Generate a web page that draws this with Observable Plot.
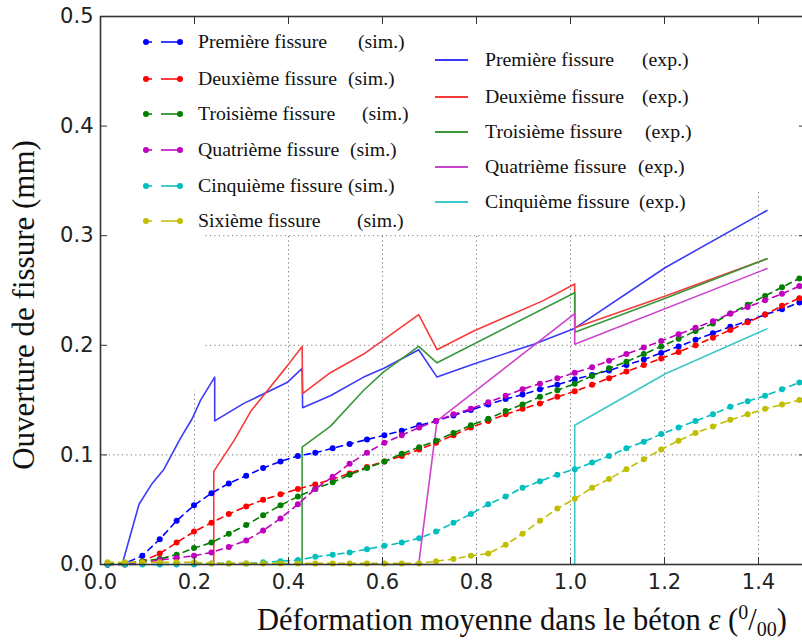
<!DOCTYPE html>
<html><head><meta charset="utf-8">
<script src="https://cdn.jsdelivr.net/npm/d3@7"></script>
<script src="https://cdn.jsdelivr.net/npm/@observablehq/plot@0.6"></script>
<style>body{margin:0;background:#fff}</style>
</head><body><div id="chart"></div>
<script>
// ---- data ----
const simX = [0.015,0.052,0.089,0.126,0.162,0.199,0.236,0.273,0.310,0.346,0.383,0.420,0.457,0.494,0.530,0.567,0.604,0.641,0.678,0.714,0.751,0.788,0.825,0.862,0.898,0.935,0.972,1.009,1.046,1.082,1.119,1.156,1.193,1.230,1.266,1.303,1.340,1.377,1.414,1.450,1.487];
const simPremiere = [0.000,0.001,0.008,0.023,0.040,0.054,0.065,0.074,0.081,0.088,0.094,0.099,0.102,0.106,0.110,0.114,0.118,0.122,0.127,0.131,0.136,0.141,0.146,0.151,0.155,0.160,0.164,0.169,0.173,0.177,0.182,0.187,0.193,0.199,0.205,0.211,0.217,0.222,0.228,0.233,0.239];
const simDeuxieme = [0.000,0.000,0.003,0.010,0.020,0.030,0.038,0.046,0.053,0.059,0.064,0.069,0.073,0.078,0.083,0.089,0.094,0.099,0.105,0.111,0.118,0.125,0.131,0.137,0.142,0.147,0.153,0.158,0.164,0.170,0.176,0.182,0.188,0.194,0.200,0.207,0.214,0.221,0.228,0.236,0.243];
const simTroisieme = [0.000,0.001,0.003,0.005,0.009,0.015,0.020,0.028,0.036,0.045,0.054,0.062,0.069,0.075,0.082,0.088,0.094,0.101,0.107,0.113,0.120,0.127,0.133,0.140,0.146,0.153,0.159,0.165,0.172,0.179,0.185,0.192,0.199,0.206,0.213,0.220,0.229,0.237,0.245,0.253,0.261];
const simQuatrieme = [0.000,0.000,0.002,0.004,0.006,0.008,0.011,0.016,0.022,0.031,0.042,0.055,0.069,0.080,0.092,0.102,0.111,0.118,0.125,0.131,0.137,0.142,0.148,0.154,0.160,0.165,0.170,0.175,0.180,0.186,0.192,0.198,0.204,0.210,0.216,0.222,0.229,0.235,0.241,0.247,0.254];
const simCinquieme = [0.000,0.000,0.000,0.000,0.000,0.000,0.001,0.001,0.001,0.002,0.003,0.004,0.007,0.009,0.011,0.014,0.017,0.020,0.024,0.030,0.038,0.046,0.055,0.062,0.070,0.076,0.082,0.087,0.093,0.099,0.106,0.112,0.119,0.125,0.131,0.137,0.144,0.149,0.154,0.160,0.166];
const simSixieme = [0.002,0.002,0.002,0.002,0.002,0.002,0.001,0.001,0.001,0.001,0.001,0.001,0.001,0.001,0.001,0.001,0.001,0.001,0.001,0.003,0.005,0.008,0.010,0.018,0.028,0.040,0.051,0.060,0.070,0.078,0.087,0.096,0.105,0.113,0.120,0.126,0.132,0.137,0.142,0.146,0.150];

const expPremiereX = [0.046,0.082,0.110,0.135,0.170,0.195,0.213,0.243,0.243,0.305,0.397,0.429,0.430,0.489,0.560,0.603,0.677,0.716,0.794,0.922,1.007,1.202,1.418];
const expPremiereY = [0.000,0.055,0.074,0.087,0.115,0.133,0.150,0.171,0.131,0.147,0.166,0.179,0.143,0.154,0.171,0.179,0.196,0.171,0.183,0.201,0.215,0.271,0.323];
const expDeuxiemeX = [0.241,0.241,0.284,0.320,0.397,0.429,0.430,0.489,0.560,0.677,0.716,0.794,0.943,1.009,1.009,1.202,1.418];
const expDeuxiemeY = [0.000,0.085,0.113,0.140,0.181,0.199,0.156,0.175,0.192,0.228,0.196,0.213,0.241,0.256,0.216,0.245,0.279];
const expTroisiemeX = [0.429,0.429,0.489,0.560,0.603,0.677,0.716,1.009,1.009,1.202,1.418];
const expTroisiemeY = [0.000,0.107,0.126,0.159,0.176,0.199,0.184,0.248,0.212,0.243,0.279];
const expQuatriemeX = [0.677,0.716,1.009,1.009,1.418];
const expQuatriemeY = [0.000,0.131,0.229,0.201,0.270];
const expCinquiemeX = [1.009,1.009,1.202,1.418];
const expCinquiemeY = [0.000,0.127,0.174,0.215];

const simNames = ["Première fissure","Deuxième fissure","Troisième fissure","Quatrième fissure","Cinquième fissure","Sixième fissure"];
const simColors = ["#0000ff","#ff0000","#007f00","#bf00bf","#00bfbf","#bfbf00"];
const expNames = ["Première fissure","Deuxième fissure","Troisième fissure","Quatrième fissure","Cinquième fissure"];
const expColors = ["#3b3bf5","#f53b3b","#3a963a","#cc44cc","#3cc8c8"];
const xTicks = [0.0,0.2,0.4,0.6,0.8,1.0,1.2,1.4];
const yTicks = [0.0,0.1,0.2,0.3,0.4,0.5];
const gridXTicks = [0.2,0.4,0.6,0.8,1.0,1.2,1.4];
const gridYTicks = [0.1,0.2,0.3,0.4];
// white legend background boxes (hide grid beneath legends)
const legendBoxes = [
  {x1:0.0, x2:0.223, y1:0.158, y2:0.5},
  {x1:0.223, x2:1.36, y1:0.302, y2:0.5},
  {x1:1.36, x2:1.5, y1:0.340, y2:0.5}
];

// ---- build tables ----
const simSeries = [simPremiere,simDeuxieme,simTroisieme,simQuatrieme,simCinquieme,simSixieme];
const simRows = simSeries.map((vals,si)=>simX.map((x,i)=>({x, y: vals[i], s: si})));
const expSeries = [[expPremiereX,expPremiereY],[expDeuxiemeX,expDeuxiemeY],[expTroisiemeX,expTroisiemeY],[expQuatriemeX,expQuatriemeY],[expCinquiemeX,expCinquiemeY]];
const expRows = expSeries.map(([xs,ys],si)=>xs.map((x,i)=>({x, y: ys[i], s: si})));

const marks = [];
marks.push(Plot.gridX(gridXTicks, {stroke:"#777", strokeOpacity:1, strokeDasharray:"1.2,3.2", strokeWidth:1}));
marks.push(Plot.gridY(gridYTicks, {stroke:"#777", strokeOpacity:1, strokeDasharray:"1.2,3.2", strokeWidth:1}));
marks.push(Plot.rect(legendBoxes, {x1:"x1", x2:"x2", y1:"y1", y2:"y2", fill:"white"}));
expRows.forEach((rows,si)=>{
  marks.push(Plot.line(rows, {x:"x", y:"y", stroke: expColors[si], strokeWidth:1.6, curve:"linear"}));
});
simRows.forEach((rows,si)=>{
  marks.push(Plot.line(rows, {x:"x", y:"y", stroke: simColors[si], strokeWidth:1.6, strokeDasharray:"6,5"}));
  marks.push(Plot.dot(rows, {x:"x", y:"y", fill: simColors[si], r:3, stroke:"none"}));
});
const axisFont = {fontFamily:"DejaVu Sans", fontSize:21, fill:"#222", stroke:"#333"};
marks.push(Plot.frame({stroke:"#333", strokeWidth:1.6}));
marks.push(Plot.axisX(xTicks, {anchor:"bottom", tickSize:-7, tickPadding:17, tickFormat:d3.format(".1f"), label:null, ...axisFont}));
marks.push(Plot.axisX(xTicks, {anchor:"top", tickSize:-7, tickFormat:()=>"", label:null, stroke:"#333"}));
marks.push(Plot.axisY(yTicks, {anchor:"left", tickSize:-7, tickPadding:14, tickFormat:d3.format(".1f"), label:null, ...axisFont}));
marks.push(Plot.axisY(yTicks, {anchor:"right", tickSize:-7, tickFormat:()=>"", label:null, stroke:"#333"}));

const plot = Plot.plot({
  width: 802, height: 642,
  marginLeft: 100, marginRight: -3, marginTop: 16, marginBottom: 78,
  x: {domain:[0,1.5]},
  y: {domain:[0,0.5]},
  style: {background:"white", overflow:"hidden"},
  marks
});
document.getElementById("chart").appendChild(plot);

// ---- axis titles & legend (overlay) ----
const svg = d3.select(plot);
const serif = "Liberation Serif, Times New Roman, serif";
const xl = svg.append("text").attr("x", 257).attr("y", 630).attr("text-anchor","start")
  .attr("font-family", serif).attr("font-size", 30.5).attr("fill", "#111");
xl.append("tspan").text("Déformation moyenne dans le béton ");
xl.append("tspan").attr("font-style","italic").text("ε");
xl.append("tspan").text(" (");
xl.append("tspan").attr("font-size", 20).attr("dy", -11).text("0");
xl.append("tspan").attr("dy", 11).text("/");
xl.append("tspan").attr("font-size", 20).attr("dy", 6).text("00");
xl.append("tspan").attr("dy", -6).text(")");
svg.append("text").attr("transform","translate(34,305) rotate(-90)").attr("text-anchor","middle")
  .attr("font-family", serif).attr("font-size", 31).attr("fill","#111").text("Ouverture de fissure (mm)");

const simLegY = [42, 79, 114, 150, 186, 221];
const simTagX = [358, 348, 362, 350, 348, 357];
const lg = svg.append("g").attr("font-family", serif).attr("font-size", 19.8).attr("fill","#111").attr("text-anchor","start");
simNames.forEach((n,i)=>{
  const y = simLegY[i];
  lg.append("line").attr("x1",146).attr("x2",180).attr("y1",y).attr("y2",y).attr("stroke",simColors[i]).attr("stroke-width",1.6).attr("stroke-dasharray","6,9,19");
  lg.append("circle").attr("cx",146).attr("cy",y).attr("r",3).attr("fill",simColors[i]);
  lg.append("circle").attr("cx",180).attr("cy",y).attr("r",3).attr("fill",simColors[i]);
  lg.append("text").attr("x",198).attr("y",y+6).text(n);
  lg.append("text").attr("x",simTagX[i]).attr("y",y+6).text("(sim.)");
});
const expLegY = [60, 97, 132, 167, 202];
const expTagX = [642, 642, 645, 638, 639];
expNames.forEach((n,i)=>{
  const y = expLegY[i];
  lg.append("line").attr("x1",435).attr("x2",468).attr("y1",y).attr("y2",y).attr("stroke",expColors[i]).attr("stroke-width",1.8);
  lg.append("text").attr("x",485).attr("y",y+6).text(n);
  lg.append("text").attr("x",expTagX[i]).attr("y",y+6).text("(exp.)");
});
</script>
</body></html>
